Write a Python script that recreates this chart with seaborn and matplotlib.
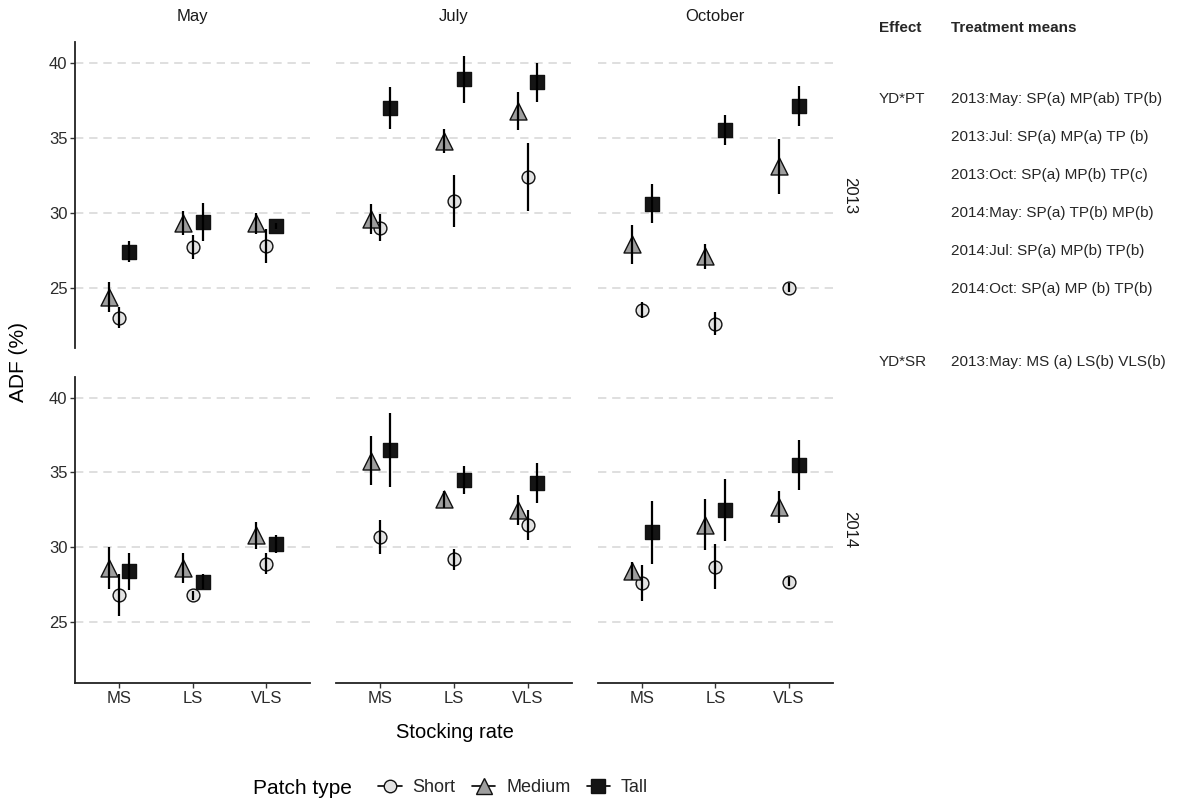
import pandas as pd
import matplotlib
matplotlib.use("Agg")
import matplotlib.pyplot as plt
import seaborn as sns
from matplotlib.lines import Line2D

# categories
years = ["2013", "2014"]
months = ["May", "July", "October"]
rates = ["MS", "LS", "VLS"]
patches = ["Short", "Medium", "Tall"]

# ADF (%) means, rows = stocking rate (MS, LS, VLS), cols = patch (Short, Medium, Tall)
mean_2013_may = [[23.0, 24.4, 27.4], [27.7, 29.3, 29.4], [27.8, 29.3, 29.1]]
mean_2013_jul = [[29.0, 29.6, 37.0], [30.8, 34.8, 38.9], [32.4, 36.8, 38.7]]
mean_2013_oct = [[23.5, 27.9, 30.6], [22.6, 27.1, 35.5], [25.0, 33.1, 37.1]]
mean_2014_may = [[26.8, 28.6, 28.4], [26.8, 28.6, 27.7], [28.9, 30.8, 30.2]]
mean_2014_jul = [[30.7, 35.8, 36.5], [29.2, 33.2, 34.5], [31.5, 32.5, 34.3]]
mean_2014_oct = [[27.6, 28.4, 31.0], [28.7, 31.5, 32.5], [27.7, 32.7, 35.5]]

# error (half length of the bars)
err_2013_may = [[0.7, 1.0, 0.7], [0.8, 0.8, 1.25], [1.15, 0.7, 0.2]]
err_2013_jul = [[0.9, 1.0, 1.4], [1.75, 0.8, 1.55], [2.25, 1.25, 1.3]]
err_2013_oct = [[0.55, 1.3, 1.3], [0.75, 0.85, 1.0], [0.3, 1.85, 1.33]]
err_2014_may = [[1.4, 1.4, 1.25], [0.3, 1.0, 0.5], [0.7, 0.9, 0.6]]
err_2014_jul = [[1.15, 1.65, 2.45], [0.7, 0.55, 0.95], [1.0, 1.0, 1.35]]
err_2014_oct = [[1.2, 0.6, 2.1], [1.5, 1.7, 2.05], [0.3, 1.05, 1.65]]

effects = ["YD*PT", "YD*SR"]
ydpt_means = ["2013:May: SP(a) MP(ab) TP(b)",
              "2013:Jul: SP(a) MP(a) TP (b)",
              "2013:Oct: SP(a) MP(b) TP(c)",
              "2014:May: SP(a) TP(b) MP(b)",
              "2014:Jul: SP(a) MP(b) TP(b)",
              "2014:Oct: SP(a) MP (b) TP(b)"]
ydsr_means = ["2013:May: MS (a) LS(b) VLS(b)"]

means = {("2013", "May"): mean_2013_may, ("2013", "July"): mean_2013_jul,
         ("2013", "October"): mean_2013_oct, ("2014", "May"): mean_2014_may,
         ("2014", "July"): mean_2014_jul, ("2014", "October"): mean_2014_oct}
errs = {("2013", "May"): err_2013_may, ("2013", "July"): err_2013_jul,
        ("2013", "October"): err_2013_oct, ("2014", "May"): err_2014_may,
        ("2014", "July"): err_2014_jul, ("2014", "October"): err_2014_oct}

# long table
rows = []
for (yr, mo), m in means.items():
    for i, r in enumerate(rates):
        for j, p in enumerate(patches):
            rows.append({"year": yr, "month": mo, "rate": r, "patch": p,
                         "adf": m[i][j], "se": errs[(yr, mo)][i][j]})
df = pd.DataFrame(rows)

# style
dodge = {"Medium": -0.135, "Short": 0.0, "Tall": 0.135}
fills = {"Short": "#e3e3e3", "Medium": "#9e9e9e", "Tall": "#151515"}
marks = {"Short": "o", "Medium": "^", "Tall": "s"}
sizes = {"Short": 85, "Medium": 150, "Tall": 95}
df["xpos"] = df["rate"].map({r: i for i, r in enumerate(rates)}) + df["patch"].map(dodge)

sns.set_style("white")
plt.rcParams["font.family"] = ["Liberation Sans", "DejaVu Sans"]

g = sns.FacetGrid(df, row="year", col="month", row_order=years, col_order=months,
                  sharex=True, sharey=True, despine=False, height=3, aspect=1)
fig = g.figure


def draw_panel(data, **kws):
    ax = plt.gca()
    for p in patches:
        d = data[data["patch"] == p]
        sns.scatterplot(x=d["xpos"], y=d["adf"], marker=marks[p], s=sizes[p],
                        color=fills[p], edgecolor="#111111", linewidth=1.0,
                        zorder=3, ax=ax, legend=False)
    ax.vlines(data["xpos"], data["adf"] - data["se"], data["adf"] + data["se"],
              color="black", lw=1.6, zorder=4)


g.map_dataframe(draw_panel)
g.set_titles("")
g.set_axis_labels("", "")

fig.set_size_inches(11.78, 7.98)
fig.subplots_adjust(left=75 / 1178, right=833 / 1178, top=1 - 42 / 798,
                    bottom=1 - 683 / 798, wspace=0.11, hspace=0.092)

for ri, yr in enumerate(years):
    for ci, mo in enumerate(months):
        ax = g.axes[ri, ci]
        ax.set_xlim(-0.6, 2.6)
        ax.set_ylim(20.95, 41.4)
        ax.set_xticks(range(len(rates)))
        ax.set_xticklabels(rates)
        ax.set_yticks([25, 30, 35, 40])
        for y in [25, 30, 35, 40]:
            ax.axhline(y, color="#d9d9d9", lw=1.2, ls=(0, (5, 3.5)), zorder=1)
        for s in ["top", "right"]:
            ax.spines[s].set_visible(False)
        ax.spines["left"].set_visible(ci == 0)
        ax.spines["bottom"].set_visible(ri == 1)
        for s in ["left", "bottom"]:
            ax.spines[s].set_color("#222222")
            ax.spines[s].set_linewidth(1.3)
        ax.tick_params(axis="y", left=(ci == 0), labelleft=(ci == 0), length=3.5,
                       width=1, color="#333333", labelsize=12, labelcolor="#2b2b2b", pad=2)
        ax.tick_params(axis="x", bottom=(ri == 1), labelbottom=(ri == 1), length=3.5,
                       width=1, color="#333333", labelsize=12, labelcolor="#2b2b2b", pad=2)
        if ri == 0:
            ax.text(0.5, 1 + 25 / 306, mo, transform=ax.transAxes, ha="center",
                    va="center", fontsize=12, color="#1a1a1a")
        if ci == 2:
            ax.text(1 + 17 / 235, 0.5, yr, transform=ax.transAxes, ha="center",
                    va="center", rotation=270, fontsize=12, color="#1a1a1a")

fig.text(18 / 1178, 1 - 362 / 798, "ADF (%)", rotation=90, ha="center", va="center",
         fontsize=15, color="black")
fig.text(455 / 1178, 1 - 732 / 798, "Stocking rate", ha="center", va="center",
         fontsize=14.5, color="black")

# legend
fig.text(253 / 1178, 1 - 788 / 798, "Patch type", ha="left", va="center",
         fontsize=15, color="black")
handles = [Line2D([0], [0], color="black", lw=1.2, marker=marks[p],
                  markersize={"Short": 9, "Medium": 11.5, "Tall": 9.5}[p],
                  markerfacecolor=fills[p], markeredgecolor="#111111")
           for p in patches]
fig.legend(handles, patches, loc="center left", bbox_to_anchor=(362 / 1178, 1 - 788 / 798),
           ncol=3, frameon=False, handlelength=1.3, columnspacing=0.9,
           handletextpad=0.6, fontsize=13)

# treatment means table
xe, xt = 879 / 1178, 951 / 1178
fig.text(xe, 1 - 28 / 798, "Effect", fontweight="bold", fontsize=11, va="center")
fig.text(xt, 1 - 28 / 798, "Treatment means", fontweight="bold", fontsize=11, va="center")
fig.text(xe, 1 - 99 / 798, effects[0], fontsize=11, va="center")
for k, t in enumerate(ydpt_means):
    fig.text(xt, 1 - (99 + 38 * k) / 798, t, fontsize=11, va="center")
fig.text(xe, 1 - 362 / 798, effects[1], fontsize=11, va="center")
fig.text(xt, 1 - 362 / 798, ydsr_means[0], fontsize=11, va="center")

fig.savefig("out.png", dpi=100)
